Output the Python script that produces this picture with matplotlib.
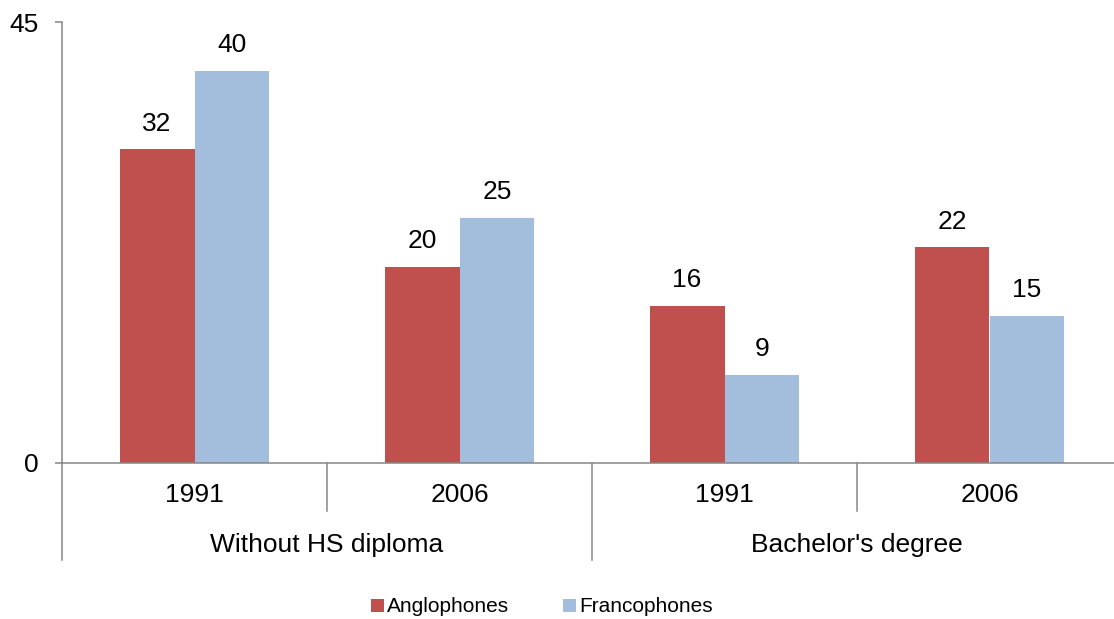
import numpy as np
import matplotlib
matplotlib.use('Agg')
from matplotlib import pyplot as plt
import matplotlib.transforms as mtransforms

plt.rcParams['font.family'] = ['Liberation Sans', 'DejaVu Sans']

# data
years = ['1991', '2006', '1991', '2006']
groups = ['Without HS diploma', "Bachelor's degree"]
anglophones = [32, 20, 16, 22]
francophones = [40, 25, 9, 15]

red = '#C0504D'
blue = '#A3BDDD'
grey = '#868686'

fig = plt.figure(figsize=(11.14, 6.19), dpi=100)
# plot area runs a little past the right edge, like the original
ax = fig.add_axes([62 / 1114, 1 - 463 / 619, (1122 - 62) / 1114, 441 / 619])

x = np.arange(len(years))
w = 0.283
b1 = ax.bar(x - w / 2, anglophones, w, color=red, label='Anglophones')
b2 = ax.bar(x + w / 2, francophones, w, color=blue, label='Francophones')

# value labels above bars
for bars, vals in ((b1, anglophones), (b2, francophones)):
    for r, v in zip(bars, vals):
        ax.annotate(str(v), (r.get_x() + r.get_width() / 2, r.get_height()),
                    xytext=(0, 10), textcoords='offset points',
                    ha='center', va='bottom', fontsize=19)

ax.set_xlim(-0.5, 3.5)
ax.set_ylim(0, 45)
ax.set_yticks([0, 45])
ax.set_xticks([])
ax.tick_params(axis='y', length=5, width=1.1, color=grey, labelsize=19, pad=12)

for s in ['top', 'right']:
    ax.spines[s].set_visible(False)
for s in ['left', 'bottom']:
    ax.spines[s].set_color(grey)
    ax.spines[s].set_linewidth(1.1)

# two-level category axis
trans = mtransforms.blended_transform_factory(ax.transData, ax.transAxes)
for xi in [0.5, 2.5]:
    ax.plot([xi, xi], [0, -0.109], transform=trans, color=grey, lw=1.1, clip_on=False)
for xi in [-0.5, 1.5]:
    ax.plot([xi, xi], [0, -0.22], transform=trans, color=grey, lw=1.1, clip_on=False)

for xi, lab in zip(x, years):
    ax.text(xi, -0.073, lab, transform=trans, ha='center', va='center', fontsize=19)
for gi, lab in enumerate(groups):
    ax.text(0.5 + 2 * gi, -0.186, lab, transform=trans, ha='center', va='center', fontsize=19)

fig.legend(handles=[b1, b2], loc='center', bbox_to_anchor=(542 / 1114, 1 - 607 / 619),
           ncol=2, frameon=False, fontsize=15, handlelength=0.6, handleheight=0.6,
           handletextpad=0.15, columnspacing=2.6)

fig.savefig('out.png', dpi=100)
